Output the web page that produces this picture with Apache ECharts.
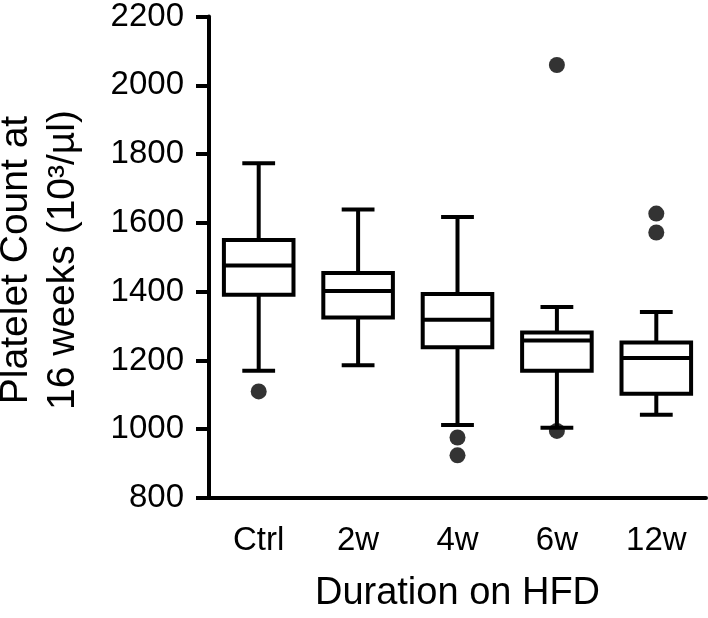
<!DOCTYPE html>
<html>
<head>
<meta charset="utf-8">
<script src="https://cdn.jsdelivr.net/npm/echarts@6/dist/echarts.min.js"></script>
<style>
  html, body { margin: 0; padding: 0; background: #fff; }
  #chart { width: 708px; height: 618px; }
</style>
</head>
<body>
<div id="chart"></div>
<script>
// ---- data ----
const categories = ['Ctrl', '2w', '4w', '6w', '12w'];
// box statistics per category
const lowWhisker  = [1170, 1186, 1012, 1004, 1042];
const q1Values    = [1391, 1325, 1238, 1170, 1103];
const medians     = [1476, 1402, 1318, 1258, 1207];
const q3Values    = [1550, 1454, 1393, 1281, 1252];
const highWhisker = [1773, 1639, 1617, 1355, 1341];
const outlierCats   = ['Ctrl', '4w', '4w', '6w', '6w', '12w', '12w'];
const outlierValues = [1110, 976, 924, 2059, 995, 1627, 1572];
const yTicks = { min: 800, max: 2200, interval: 200 };

const boxData = categories.map((c, i) => [i, lowWhisker[i], q1Values[i], medians[i], q3Values[i], highWhisker[i]]);
const outlierData = outlierCats.map((c, i) => [c, outlierValues[i]]);

const FONT = '"Liberation Sans", Arial, Helvetica, sans-serif';
const LW = 4;

function renderBox(params, api) {
  const xi = api.value(0);
  const pLow = api.coord([xi, api.value(1)]);
  const pQ1 = api.coord([xi, api.value(2)]);
  const pMed = api.coord([xi, api.value(3)]);
  const pQ3 = api.coord([xi, api.value(4)]);
  const pHigh = api.coord([xi, api.value(5)]);
  const band = api.size([1, 0])[0];
  const bw = band * 0.70;
  const cw = band * 0.33;
  const cx = pMed[0];
  const st = { stroke: '#000', lineWidth: LW, fill: 'none' };
  return {
    type: 'group',
    children: [
      { type: 'line', shape: { x1: cx, y1: pHigh[1], x2: cx, y2: pQ3[1] }, style: st },
      { type: 'line', shape: { x1: cx, y1: pLow[1], x2: cx, y2: pQ1[1] }, style: st },
      { type: 'line', shape: { x1: cx - cw / 2, y1: pHigh[1], x2: cx + cw / 2, y2: pHigh[1] }, style: st },
      { type: 'line', shape: { x1: cx - cw / 2, y1: pLow[1], x2: cx + cw / 2, y2: pLow[1] }, style: st },
      { type: 'rect', shape: { x: cx - bw / 2, y: pQ3[1], width: bw, height: pQ1[1] - pQ3[1] },
        style: { stroke: '#000', lineWidth: LW, fill: '#fff' } },
      { type: 'line', shape: { x1: cx - bw / 2, y1: pMed[1], x2: cx + bw / 2, y2: pMed[1] }, style: st }
    ]
  };
}

const chart = echarts.init(document.getElementById('chart'), null, { renderer: 'canvas' });
chart.setOption({
  animation: false,
  backgroundColor: '#fff',
  grid: { left: 209, right: 2, top: 14, bottom: 109, containLabel: false },
  xAxis: {
    type: 'category',
    data: categories,
    boundaryGap: true,
    name: 'Duration on HFD',
    nameLocation: 'middle',
    nameGap: 77,
    nameTextStyle: { fontFamily: FONT, fontSize: 38, color: '#000' },
    axisLine: { lineStyle: { color: '#000', width: LW } },
    axisTick: { alignWithLabel: true, length: 13, lineStyle: { color: '#000', width: LW } },
    axisLabel: { fontFamily: FONT, fontSize: 33, color: '#000', margin: 26 },
    splitLine: { show: false }
  },
  yAxis: {
    type: 'value',
    min: yTicks.min, max: yTicks.max, interval: yTicks.interval,
    axisLine: { show: true, lineStyle: { color: '#000', width: LW } },
    axisTick: { show: true, length: 13, lineStyle: { color: '#000', width: LW } },
    axisLabel: { fontFamily: FONT, fontSize: 33, color: '#000', margin: 25,
                 formatter: v => String(v) },
    splitLine: { show: false }
  },
  graphic: [{
    type: 'text',
    x: 40, y: 260,
    rotation: Math.PI / 2,
    style: {
      text: 'Platelet Count at\n16 weeks (10³/µl)',
      font: '39px ' + FONT,
      fill: '#000',
      align: 'center', textAlign: 'center',
      verticalAlign: 'middle', textVerticalAlign: 'middle',
      lineHeight: 47
    }
  }],
  series: [
    {
      type: 'custom',
      renderItem: renderBox,
      data: boxData,
      encode: { x: 0, y: [1, 2, 3, 4, 5] },
      z: 2
    },
    {
      type: 'scatter',
      data: outlierData,
      symbol: 'circle',
      symbolSize: 16,
      itemStyle: { color: '#000' },
      z: 3
    }
  ]
});
</script>
</body>
</html>
